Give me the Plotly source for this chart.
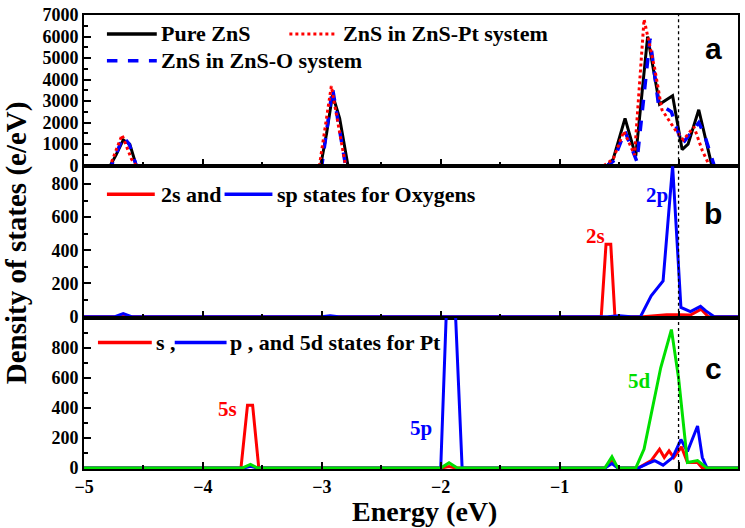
import plotly.graph_objects as go
from plotly.subplots import make_subplots

# ---------------- data ----------------
# Panel a: total DOS of ZnS
pure_e = [-5, -4.78, -4.73, -4.67, -4.615, -4.56, -3.01, -2.96, -2.91, -2.85, -2.78,
          -0.6, -0.55, -0.45, -0.36, -0.26, -0.16, -0.05, 0.03, 0.08, 0.17, 0.22, 0.28, 0.5]
pure_v = [0, 0, 500, 1200, 1000, 0, 0, 1500, 3300, 2200, 0,
          0, 300, 2200, 450, 6000, 2850, 3250, 750, 1000, 2600, 1400, 0, 0]

pt_e = [-5, -4.78, -4.68, -4.6, -4.56, -3.02, -2.92, -2.8,
        -0.63, -0.55, -0.46, -0.37, -0.29, -0.2, -0.14, -0.02, 0.04, 0.13, 0.2, 0.26, 0.5]
pt_v = [0, 0, 1430, 300, 0, 0, 3700, 0,
        0, 300, 1600, 500, 6800, 4500, 2600, 1600, 1200, 1800, 700, 0, 0]

o_e = [-5, -4.77, -4.67, -4.62, -4.56, -3.0, -2.91, -2.8,
       -0.6, -0.55, -0.45, -0.35, -0.24, -0.17, -0.06, 0.03, 0.17, 0.22, 0.3, 0.5]
o_v = [0, 0, 1350, 1000, 0, 0, 3600, 0,
       0, 200, 1600, 190, 5900, 2900, 2500, 1000, 2000, 1400, 0, 0]

# Panel b: oxygen PDOS
o2s_e = [-5, -4.72, -4.67, -4.62, -0.65, -0.61, -0.57, -0.535, -0.3, -0.1, 0.0, 0.1, 0.19, 0.25, 0.5]
o2s_v = [0, 0, 5, 0, 0, 436, 436, 0, 0, 12, 12, 10, 45, 0, 0]

osp_e = [-5, -4.74, -4.67, -4.6, -3.0, -2.93, -2.86, -0.6, -0.5, -0.4, -0.32,
         -0.23, -0.13, -0.05, 0.02, 0.1, 0.185, 0.23, 0.3, 0.5]
osp_v = [0, 0, 18, 0, 0, 6, 0, 0, 6, 0, 0,
         126, 216, 910, 56, 30, 62, 35, 0, 0]

# Panel c: Pt PDOS
pts_e = [-5, -3.68, -3.625, -3.582, -3.53, -2.0, -1.93, -1.87, -0.62, -0.56, -0.51, -0.34,
         -0.23, -0.16, -0.12, -0.08, -0.04, 0.025, 0.075, 0.16, 0.2, 0.5]
pts_v = [0, 0, 418, 418, 0, 0, 10, 0, 0, 55, 0, 0,
         50, 126, 70, 115, 70, 141, 37, 37, 0, 0]

ptp_e = [-5, -3.66, -3.6, -3.54, -2.0, -1.95, -1.88, -1.82, -0.62, -0.56, -0.51, -0.34,
         -0.26, -0.2, -0.13, -0.05, 0.02, 0.075, 0.16, 0.2, 0.24, 0.5]
ptp_v = [0, 0, 12, 0, 0, 1100, 1100, 0, 0, 30, 0, 0,
         30, 50, 20, 70, 190, 110, 280, 70, 0, 0]

ptd_e = [-5, -3.67, -3.6, -3.54, -2.0, -1.93, -1.86, -0.62, -0.56, -0.51, -0.36,
         -0.29, -0.15, -0.06, 0.0, 0.075, 0.16, 0.24, 0.5]
ptd_v = [0, 0, 25, 0, 0, 35, 0, 0, 75, 0, 0,
         126, 667, 921, 600, 37, 50, 0, 0]

x_range = [-5, 0.5]
ya_range = [-30, 7000]
yb_range = [-6, 906]
yc_range = [-6, 1000]
ya_ticks = [0, 1000, 2000, 3000, 4000, 5000, 6000, 7000]
ybc_ticks = [0, 200, 400, 600, 800]

peak_labels = [  # (row, text, energy, value, colour)
    (2, "2s", -0.70, 486, "#ff0000"),
    (2, "2p", -0.18, 732, "#0000ff"),
    (3, "5s", -3.79, 393, "#ff0000"),
    (3, "5p", -2.17, 267, "#0000ff"),
    (3, "5d", -0.33, 580, "#00dd00"),
]

# ---------------- figure ----------------
W, H = 745, 528
ML, MR, MT, MB = 84, 5, 13, 59
PW, PH = W - ML - MR, H - MT - MB

def px(xp):
    return (xp - ML) / PW

def py(yp):
    return (H - MB - yp) / PH

SERIF = "Liberation Serif"
fig = make_subplots(rows=3, cols=1, shared_xaxes=True, vertical_spacing=0)

RED, BLUE, GREEN, BLACK = "#ff0000", "#0000ff", "#00e000", "#000000"
fig.add_trace(go.Scatter(x=pure_e, y=pure_v, mode="lines", line=dict(color=BLACK, width=3)), 1, 1)
fig.add_trace(go.Scatter(x=o_e, y=o_v, mode="lines", line=dict(color=BLUE, width=3.5, dash="dash")), 1, 1)
fig.add_trace(go.Scatter(x=pt_e, y=pt_v, mode="lines", line=dict(color=RED, width=3, dash="dot")), 1, 1)

fig.add_trace(go.Scatter(x=o2s_e, y=o2s_v, mode="lines", line=dict(color=RED, width=3)), 2, 1)
fig.add_trace(go.Scatter(x=osp_e, y=osp_v, mode="lines", line=dict(color=BLUE, width=3)), 2, 1)

fig.add_trace(go.Scatter(x=pts_e, y=pts_v, mode="lines", line=dict(color=RED, width=3)), 3, 1)
fig.add_trace(go.Scatter(x=ptp_e, y=ptp_v, mode="lines", line=dict(color=BLUE, width=3)), 3, 1)
fig.add_trace(go.Scatter(x=ptd_e, y=ptd_v, mode="lines", line=dict(color=GREEN, width=3)), 3, 1)

axis_common = dict(showline=True, linecolor="black", linewidth=2, mirror=True,
                   ticks="inside", tickcolor="black", tickwidth=1.5, ticklen=7,
                   showgrid=False, zeroline=False,
                   tickfont=dict(family=SERIF, size=18, color="black", weight="bold"))
for r in (1, 2, 3):
    fig.update_xaxes(range=x_range, dtick=1, tick0=0,
                     minor=dict(ticks="inside", dtick=0.5, ticklen=4, tickcolor="black"),
                     row=r, col=1, **axis_common)
fig.update_xaxes(showticklabels=False, row=1, col=1)
fig.update_xaxes(showticklabels=False, row=2, col=1)
fig.update_xaxes(showticklabels=True, ticklabelstandoff=0, row=3, col=1)

fig.update_yaxes(range=ya_range, tickvals=ya_ticks,
                 minor=dict(ticks="inside", dtick=500, tick0=0, ticklen=4, tickcolor="black"),
                 row=1, col=1, **axis_common)
fig.update_yaxes(range=yb_range, tickvals=ybc_ticks,
                 minor=dict(ticks="inside", dtick=100, tick0=0, ticklen=4, tickcolor="black"),
                 row=2, col=1, **axis_common)
fig.update_yaxes(range=yc_range, tickvals=ybc_ticks,
                 minor=dict(ticks="inside", dtick=100, tick0=0, ticklen=4, tickcolor="black"),
                 row=3, col=1, **axis_common)

# Fermi level dotted line
for r, yr in ((1, "y domain"), (2, "y2 domain"), (3, "y3 domain")):
    xr = "x" if r == 1 else f"x{r}"
    fig.add_shape(type="line", xref=xr, yref=yr, x0=0, x1=0, y0=0, y1=1,
                  line=dict(color="black", width=1.3, dash="dot"))

# custom legends (paper coordinates)
def leg_line(x0, x1, y, color, dash="solid", width=3.5):
    fig.add_shape(type="line", xref="paper", yref="paper", x0=px(x0), x1=px(x1),
                  y0=py(y), y1=py(y), line=dict(color=color, width=width, dash=dash))

def leg_text(x, y, text, size=22, color="black", family=SERIF):
    fig.add_annotation(xref="paper", yref="paper", x=px(x), y=py(y), text=text,
                       showarrow=False, xanchor="left", yanchor="middle",
                       font=dict(family=family, size=size, color=color, weight="bold"))

leg_line(107, 157, 32, BLACK)
leg_text(159, 32, "Pure ZnS")
leg_line(290, 337, 32, RED, "dot", 3)
leg_text(342, 32, "ZnS in ZnS-Pt system")
leg_line(107, 157, 59, BLUE, "dash")
leg_text(159, 59, "ZnS in ZnS-O system")

leg_line(107, 155, 193, RED)
leg_text(159, 193, "2s and")
leg_line(225, 273, 193, BLUE)
leg_text(276, 193, "sp states for Oxygens")

leg_line(98, 152, 342, RED)
leg_text(154, 342, "s ,")
leg_line(175, 227, 342, BLUE)
leg_text(228, 342, "p , and 5d states for Pt")

# panel letters
for letter, yp in (("a", 47), ("b", 212), ("c", 368)):
    fig.add_annotation(xref="paper", yref="paper", x=px(715), y=py(yp), text=letter,
                       showarrow=False, xanchor="center", yanchor="middle",
                       font=dict(family="Liberation Sans", size=30, color="black", weight="bold"))

# peak labels
for row, text, e, v, c in peak_labels:
    fig.add_annotation(xref=f"x{row}", yref=f"y{row}", x=e, y=v, text=text, showarrow=False,
                       xanchor="center", yanchor="middle",
                       font=dict(family=SERIF, size=21, color=c, weight="bold"))

# axis titles
fig.add_annotation(xref="paper", yref="paper", x=px(17), y=py(242), text="Density of states (e/eV)",
                   textangle=-90, showarrow=False, xanchor="center", yanchor="middle",
                   font=dict(family=SERIF, size=29, color="black", weight="bold"))
fig.add_annotation(xref="paper", yref="paper", x=px(426), y=py(512), text="Energy (eV)",
                   showarrow=False, xanchor="center", yanchor="middle",
                   font=dict(family=SERIF, size=28, color="black", weight="bold"))

fig.update_layout(width=W, height=H, margin=dict(l=ML, r=MR, t=MT, b=MB),
                  plot_bgcolor="white", paper_bgcolor="white", showlegend=False)

fig.write_html("out.html", config={"displayModeBar": False},
               post_script="document.body.style.margin='0px';document.body.style.overflow='hidden';")
